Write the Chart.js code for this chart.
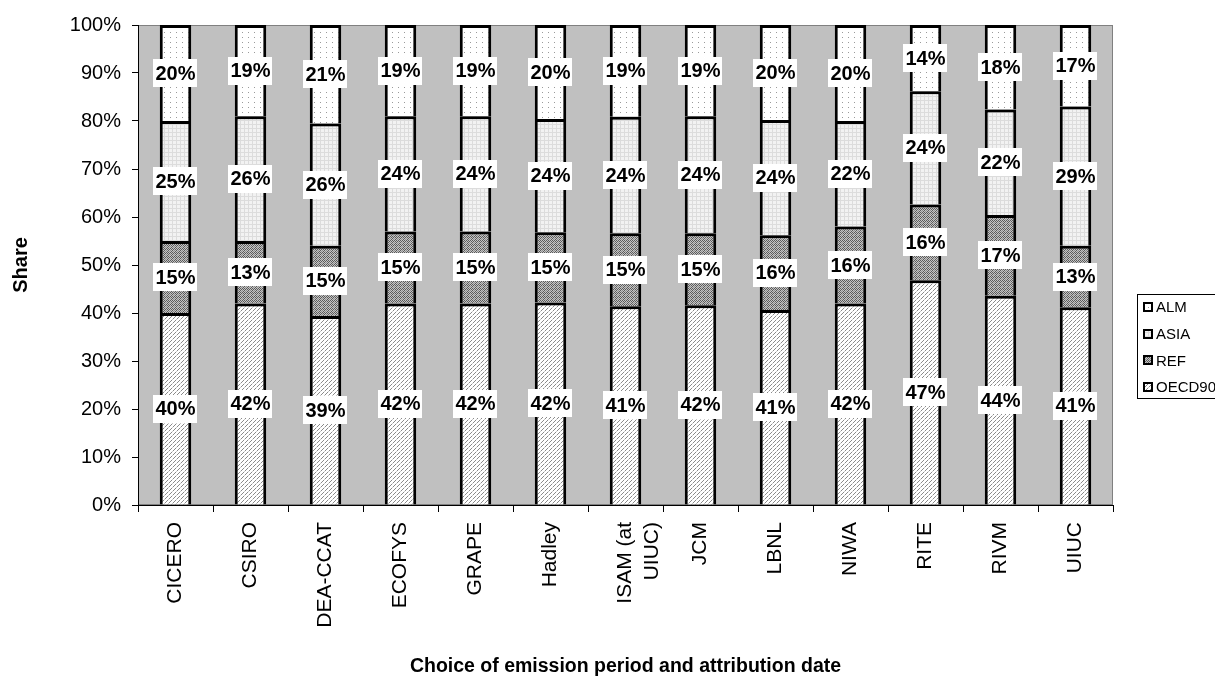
<!DOCTYPE html>
<html>
<head>
<meta charset="utf-8">
<script src="https://cdn.jsdelivr.net/npm/chart.js@4/dist/chart.umd.min.js"></script>
<style>
  html, body { margin: 0; padding: 0; background: #fff; }
  #wrap { width: 1215px; height: 678px; }
</style>
</head>
<body>
<div id="wrap"><canvas id="MYChart" width="1215" height="678"></canvas></div>
<script>
// categories and values (shares in %)
var categories = ['CICERO', 'CSIRO', 'DEA-CCAT', 'ECOFYS', 'GRAPE', 'Hadley', ['ISAM (at', 'UIUC)'], 'JCM', 'LBNL', 'NIWA', 'RITE', 'RIVM', 'UIUC'];
var oecd90 = [40, 42, 39.4, 42, 42, 42.2, 41.4, 41.6, 40.6, 42, 46.8, 43.6, 41.2];
var ref    = [15, 13, 14.6, 15, 15, 14.6, 15.2, 15, 15.6, 16, 15.8, 16.8, 12.8];
var asia   = [25, 26, 25.5, 24, 24, 23.6, 24.3, 24.4, 24, 22, 23.6, 22.0, 29];
var alm    = [20, 19, 20.5, 19, 19, 19.6, 19.1, 19, 19.8, 20, 13.8, 17.6, 17];
var yTicks = [0, 10, 20, 30, 40, 50, 60, 70, 80, 90, 100];
var legendOrder = ['ALM', 'ASIA', 'REF', 'OECD90'];

var FONT = "'Liberation Sans', Arial, sans-serif";

// small fill patterns like the old Excel ones
function makePattern(w, h, draw) {
    var c = document.createElement('canvas');
    c.width = w; c.height = h;
    var g = c.getContext('2d');
    draw(g);
    return document.getElementById('MYChart').getContext('2d').createPattern(c, 'repeat');
}
function px(g, col, pts) {
    g.fillStyle = col;
    pts.forEach(function (p) { g.fillRect(p[0], p[1], 1, 1); });
}

var patOecd = makePattern(4, 4, function (g) {
    g.fillStyle = '#ffffff'; g.fillRect(0, 0, 4, 4);
    px(g, '#8a8a8a', [[3, 0], [2, 1], [1, 2]]);
    px(g, '#c8c8c8', [[0, 3]]);
});
var patRef = makePattern(4, 4, function (g) {
    g.fillStyle = '#c4c4c4'; g.fillRect(0, 0, 4, 4);
    px(g, '#5a5a5a', [[0, 0], [2, 0], [1, 1], [3, 1], [0, 2], [3, 3]]);
    px(g, '#8c8c8c', [[2, 2], [1, 3]]);
});
var patAsia = makePattern(4, 4, function (g) {
    g.fillStyle = '#f2f2f2'; g.fillRect(0, 0, 4, 4);
    g.fillStyle = '#dcdcdc'; g.fillRect(0, 0, 4, 1); g.fillRect(0, 0, 1, 4);
});
var patAlm = makePattern(6, 5, function (g) {
    g.fillStyle = '#ffffff'; g.fillRect(0, 0, 6, 5);
    px(g, '#9a9a9a', [[2, 2]]);
});

var bgPlugin = {
    id: 'plotBg',
    beforeDraw: function (chart) {
        var a = chart.chartArea, ctx = chart.ctx;
        ctx.save();
        ctx.fillStyle = '#c0c0c0';
        ctx.fillRect(a.left, a.top, a.right - a.left, a.bottom - a.top);
        ctx.strokeStyle = '#808080';
        ctx.lineWidth = 1;
        ctx.strokeRect(a.left + 0.5, a.top + 0.5, a.right - a.left - 1, a.bottom - a.top - 1);
        ctx.restore();
    }
};

var labelPlugin = {
    id: 'segLabels',
    afterDatasetsDraw: function (chart) {
        var ctx = chart.ctx;
        ctx.save();
        ctx.font = 'bold 20px ' + FONT;
        ctx.textAlign = 'center';
        ctx.textBaseline = 'middle';
        chart.data.datasets.forEach(function (ds, i) {
            chart.getDatasetMeta(i).data.forEach(function (bar, j) {
                var txt = Math.round(ds.data[j]) + '%';
                var cy = (bar.y + bar.base) / 2;
                var w = ctx.measureText(txt).width + 4;
                ctx.fillStyle = '#ffffff';
                ctx.fillRect(Math.round(bar.x - w / 2), Math.round(cy - 14), Math.round(w), 28);
                ctx.fillStyle = '#000000';
                ctx.fillText(txt, bar.x, cy + 1);
            });
        });
        ctx.restore();
    }
};

var legendPlugin = {
    id: 'boxLegend',
    afterDraw: function (chart) {
        var ctx = chart.ctx;
        var x0 = 1137, y0 = 294, h = 105;
        ctx.save();
        ctx.fillStyle = '#ffffff';
        ctx.fillRect(x0, y0, 90, h);
        ctx.strokeStyle = '#000000';
        ctx.lineWidth = 1;
        ctx.strokeRect(x0 + 0.5, y0 + 0.5, 90, h - 1);
        ctx.font = '15px ' + FONT;
        ctx.textBaseline = 'middle';
        ctx.textAlign = 'left';
        legendOrder.forEach(function (name, k) {
            var ds = chart.data.datasets.filter(function (d) { return d.label === name; })[0];
            var yy = y0 + 13 + k * 26.7;
            ctx.fillStyle = '#000000';
            ctx.fillRect(x0 + 6, Math.round(yy - 5), 10, 10);
            ctx.fillStyle = ds.backgroundColor;
            ctx.fillRect(x0 + 8, Math.round(yy - 3), 6, 6);
            ctx.fillStyle = '#000000';
            ctx.fillText(name, x0 + 19, yy + 1);
        });
        ctx.restore();
    }
};

function makeSet(label, data, fill) {
    return {
        label: label,
        data: data,
        backgroundColor: fill,
        borderColor: '#000000',
        borderWidth: 3,
        barPercentage: 0.42,
        categoryPercentage: 1.0
    };
}

var ctx = document.getElementById('MYChart').getContext('2d');
var MYChart = new Chart(ctx, {
    type: 'bar',
    data: {
        labels: categories,
        datasets: [
            makeSet('OECD90', oecd90, patOecd),
            makeSet('REF', ref, patRef),
            makeSet('ASIA', asia, patAsia),
            makeSet('ALM', alm, patAlm)
        ]
    },
    options: {
        responsive: false,
        animation: false,
        layout: { padding: { top: 25, right: 102, left: 0, bottom: 0 } },
        plugins: {
            legend: { display: false },
            tooltip: { enabled: false }
        },
        scales: {
            x: {
                stacked: true,
                grid: { drawOnChartArea: false, tickLength: 7, color: '#000000', offset: true },
                border: { color: '#000000', width: 1 },
                ticks: {
                    color: '#000000',
                    font: { family: FONT, size: 21, lineHeight: 1.25 },
                    minRotation: 90, maxRotation: 90,
                    autoSkip: false,
                    padding: 10
                },
                title: {
                    display: true,
                    text: 'Choice of emission period and attribution date',
                    color: '#000000',
                    font: { family: FONT, size: 19.5, weight: 'bold' },
                    padding: { top: 0, bottom: 0 }
                },
                afterFit: function (s) { s.height = 173; }
            },
            y: {
                stacked: true,
                min: 0, max: 100,
                afterBuildTicks: function (s) {
                    s.ticks = yTicks.map(function (v) { return { value: v }; });
                },
                grid: { drawOnChartArea: false, tickLength: 6, color: '#000000' },
                border: { color: '#000000', width: 1 },
                ticks: {
                    color: '#000000',
                    font: { family: FONT, size: 20 },
                    padding: 11,
                    callback: function (v) { return v + '%'; }
                },
                title: {
                    display: true,
                    text: 'Share',
                    color: '#000000',
                    font: { family: FONT, size: 20, weight: 'bold' },
                    padding: { top: 9, bottom: 0 }
                },
                afterFit: function (s) { s.width = 138; }
            }
        }
    },
    plugins: [bgPlugin, labelPlugin, legendPlugin]
});
</script>
</body>
</html>
